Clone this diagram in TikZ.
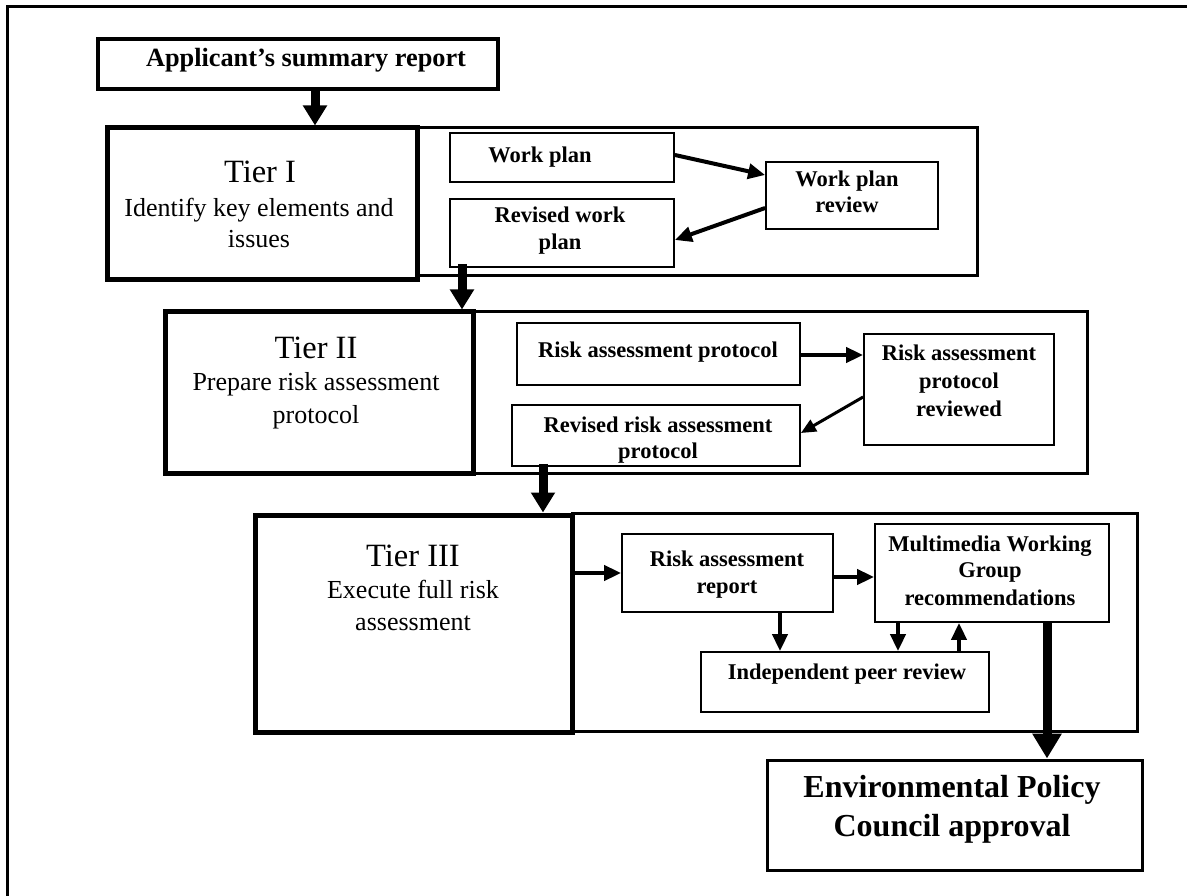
\documentclass[tikz,border=0pt]{standalone}
\usepackage{fontspec}
\setmainfont{Liberation Serif}
\usetikzlibrary{arrows.meta}
\begin{document}
\begin{tikzpicture}[x=1pt,y=-1pt,
  appbox/.style={draw, line width=4.5pt, inner sep=0pt},
  tierbox/.style={draw, line width=5pt, inner sep=0pt},
  cont/.style={draw, line width=3pt, inner sep=0pt},
  inbox/.style={draw, line width=1.8pt, inner sep=0pt},
  epcbox/.style={draw, line width=3pt, inner sep=0pt},
  txt/.style={inner sep=0pt, anchor=base, font=\fontsize{22.5}{27}\selectfont\bfseries},
  apptxt/.style={inner sep=0pt, anchor=base, font=\fontsize{26.3}{31}\selectfont\bfseries},
  tiertitle/.style={inner sep=0pt, anchor=base, font=\fontsize{32.5}{38}\selectfont},
  tiersub/.style={inner sep=0pt, anchor=base, font=\fontsize{26}{31}\selectfont},
  epctxt/.style={inner sep=0pt, anchor=base, font=\fontsize{32}{38}\selectfont\bfseries},
  bigarr/.style={line width=9pt, -{Triangle[width=23pt,length=20pt]}},
  hugearr/.style={line width=9pt, -{Triangle[width=28pt,length=25pt]}},
  midarr/.style={line width=4pt, -{Triangle[width=15pt,length=17pt]}},
  thinarr/.style={line width=3pt, -{Triangle[width=13pt,length=15pt]}}
]
% canvas
\fill[white] (0,0) rectangle (1187,896);
\useasboundingbox (0,0) rectangle (1187,896);
% outer border (top and left visible)
\draw[line width=3pt] (7,896) -- (7,7) -- (1187,7);

% containers
\node[cont, minimum width=560pt, minimum height=148pt] (c1) at (697,202) {};
\node[cont, minimum width=614pt, minimum height=161pt] (c2) at (780,392.5) {};
\node[cont, minimum width=565pt, minimum height=218pt] (c3) at (854.5,622) {};

% main boxes
\node[appbox, minimum width=400pt, minimum height=50pt] (app) at (298,64) {};
\node[tierbox, fill=white, minimum width=310pt, minimum height=152pt] (t1) at (262,204) {};
\node[tierbox, fill=white, minimum width=308pt, minimum height=161pt] (t2) at (319,392.5) {};
\node[tierbox, fill=white, minimum width=317pt, minimum height=217pt] (t3) at (413.5,623.5) {};

% inner boxes
\node[inbox, minimum width=224pt, minimum height=49pt] (wp) at (562,157.5) {};
\node[inbox, minimum width=224pt, minimum height=68pt] (rwp) at (562,233) {};
\node[inbox, minimum width=172pt, minimum height=67pt] (wpr) at (852,195.5) {};
\node[inbox, minimum width=283pt, minimum height=62pt] (rap) at (658.5,354) {};
\node[inbox, minimum width=288pt, minimum height=61pt] (rrap) at (656,435.5) {};
\node[inbox, minimum width=190pt, minimum height=111pt] (rapr) at (959,389.5) {};
\node[inbox, minimum width=211pt, minimum height=78pt] (rar) at (727.5,573) {};
\node[inbox, minimum width=234pt, minimum height=98pt] (mwg) at (992,573) {};
\node[inbox, minimum width=288pt, minimum height=60pt] (ipr) at (845,682) {};
\node[epcbox, minimum width=375pt, minimum height=110pt] (epc) at (954.5,815) {};

% texts
\node[apptxt] (tapp) at (306,67) {Applicant’s summary report};
\node[tiertitle] (t1a) at (260,183) {Tier I};
\node[tiersub] (t1b) at (259,217) {Identify key elements and};
\node[tiersub] (t1c) at (259,248) {issues};
\node[txt] (twp) at (540,163) {Work plan};
\node[txt] (trwpa) at (560,223) {Revised work};
\node[txt] (trwpb) at (560,250) {plan};
\node[txt] (twpra) at (847,187) {Work plan};
\node[txt] (twprb) at (847,213) {review};
\node[tiertitle] (t2a) at (316,358) {Tier II};
\node[tiersub] (t2b) at (316,390) {Prepare risk assessment};
\node[tiersub] (t2c) at (316,423) {protocol};
\node[txt] (trap) at (658,357) {Risk assessment protocol};
\node[txt] (trrapa) at (658,432) {Revised risk assessment};
\node[txt] (trrapb) at (658,458) {protocol};
\node[txt] (trapra) at (959,360) {Risk assessment};
\node[txt] (traprb) at (959,388) {protocol};
\node[txt] (traprc) at (959,416) {reviewed};
\node[tiertitle] (t3a) at (413,566) {Tier III};
\node[tiersub] (t3b) at (413,598) {Execute full risk};
\node[tiersub] (t3c) at (413,630) {assessment};
\node[txt] (trara) at (727,566) {Risk assessment};
\node[txt] (trarb) at (727,593) {report};
\node[txt] (tmwga) at (990,551) {Multimedia Working};
\node[txt] (tmwgb) at (990,577) {Group};
\node[txt] (tmwgc) at (990,605) {recommendations};
\node[txt] (tipr) at (847,679) {Independent peer review};
\node[epctxt] (tepca) at (952,797) {Environmental Policy};
\node[epctxt] (tepcb) at (952,836) {Council approval};

% connectors
\draw[bigarr] ([xshift=17pt]app.south) -- ([xshift=53pt]t1.north);
\draw[bigarr] ([xshift=-100pt,yshift=4pt]rwp.south) -- ([xshift=143pt]t2.north);
\draw[bigarr] ([xshift=-113pt,yshift=3pt]rrap.south) -- ([xshift=129.5pt]t3.north);
\draw[midarr] ([yshift=2.5pt]wp.east) -- ([yshift=20.5pt]wpr.west);
\draw[midarr] ([yshift=-12.5pt]wpr.west) -- ([yshift=-7pt]rwp.east);
\draw[midarr] ([yshift=-1pt]rap.east) -- ([yshift=-1pt]rap.east -| rapr.west);
\draw[thinarr] ([yshift=-7.5pt]rapr.west) -- ([yshift=2.5pt]rrap.east);
\draw[midarr] (t3.east |- rar.west) -- (rar.west);
\draw[midarr] ([yshift=-4pt]rar.east) -- ([yshift=-4pt]rar.east -| mwg.west);
\draw[midarr] ([xshift=52.5pt]rar.south) -- ([xshift=-65pt]ipr.north);
\draw[midarr] ([xshift=-94pt]mwg.south) -- ([xshift=53pt]ipr.north);
\draw[midarr] ([xshift=114pt]ipr.north) -- ([xshift=-33pt]mwg.south);
\draw[hugearr] ([xshift=55pt]mwg.south) -- ([xshift=92.5pt]epc.north);
\end{tikzpicture}
\end{document}
